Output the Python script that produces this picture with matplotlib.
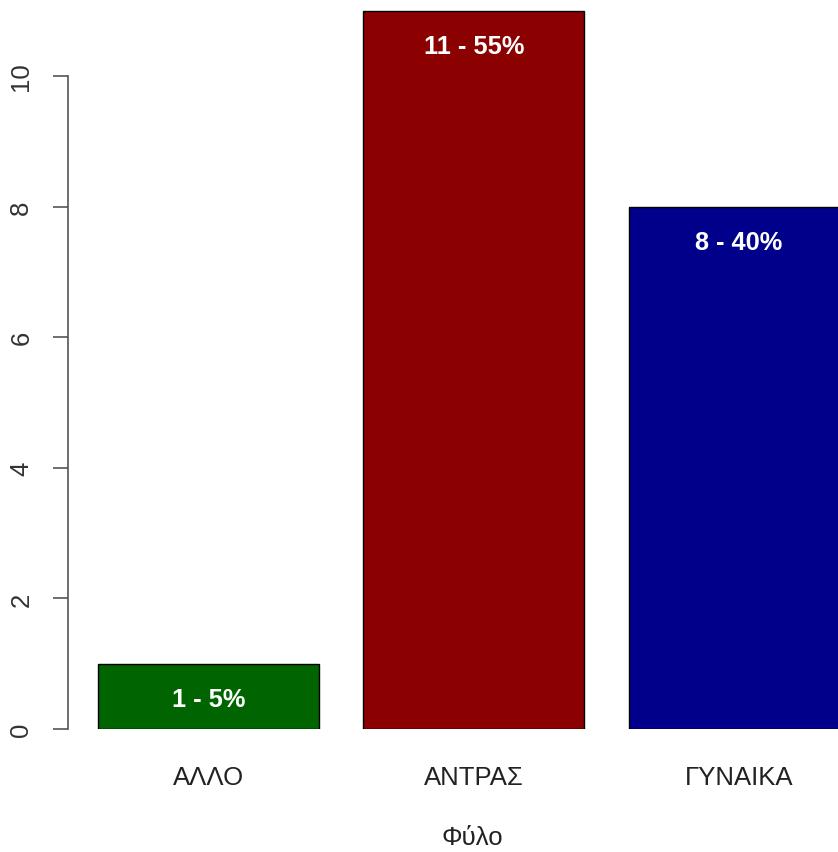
import matplotlib
matplotlib.use("Agg")
import matplotlib.pyplot as plt

categories = ["ΑΛΛΟ", "ΑΝΤΡΑΣ", "ΓΥΝΑΙΚΑ"]
counts = [1, 11, 8]
percents = [5, 55, 40]
bar_colors = ["#006400", "#8B0000", "#00008B"]
y_ticks = [0, 2, 4, 6, 8, 10]

plt.rcParams["font.family"] = ["Liberation Sans", "DejaVu Sans"]

W, H = 838, 853
fig = plt.figure(figsize=(W / 100, H / 100), dpi=100)
# plot region: y axis line at x=68px, zero line at y=730px from top
ax = fig.add_axes([68 / W, (H - 730) / H, 1 - 68 / W, 730 / H])

# R barplot layout: width 1, space 0.2
x = [0.7 + 1.2 * i for i in range(len(counts))]
ax.bar(x, counts, width=1.0, color=bar_colors, edgecolor="black", linewidth=1)

px_per_x = 221.0
ax.set_xlim((68 - 54) / px_per_x, (W - 54) / px_per_x)
ax.set_ylim(0, 730 / 65.3)

for xi, c, p in zip(x, counts, percents):
    ax.annotate(f"{c} - {p}%", (xi, c), xytext=(0, -25.5), textcoords="offset points",
                ha="center", va="center", color="white", fontsize=18.3, fontweight="bold")

for s in ["top", "right", "bottom"]:
    ax.spines[s].set_visible(False)
ax.spines["left"].set_bounds(0, 10)
ax.spines["left"].set_color("#555555")
ax.spines["left"].set_linewidth(1.2)

ax.set_yticks(y_ticks)
ax.set_yticklabels([str(t) for t in y_ticks], rotation=90, va="center", fontsize=18.5, color="#333333")
ax.tick_params(axis="y", length=11, width=1.2, color="#555555", pad=14)

ax.set_xticks(x)
ax.set_xticklabels(categories, fontsize=18.5, color="#222222")
ax.tick_params(axis="x", length=0, pad=26)

ax.set_xlabel("Φύλο", fontsize=18.5, color="#222222", va="center")
ax.xaxis.set_label_coords((472 - 68) / (W - 68), -108 / 730)

fig.savefig("out.png", dpi=100)
